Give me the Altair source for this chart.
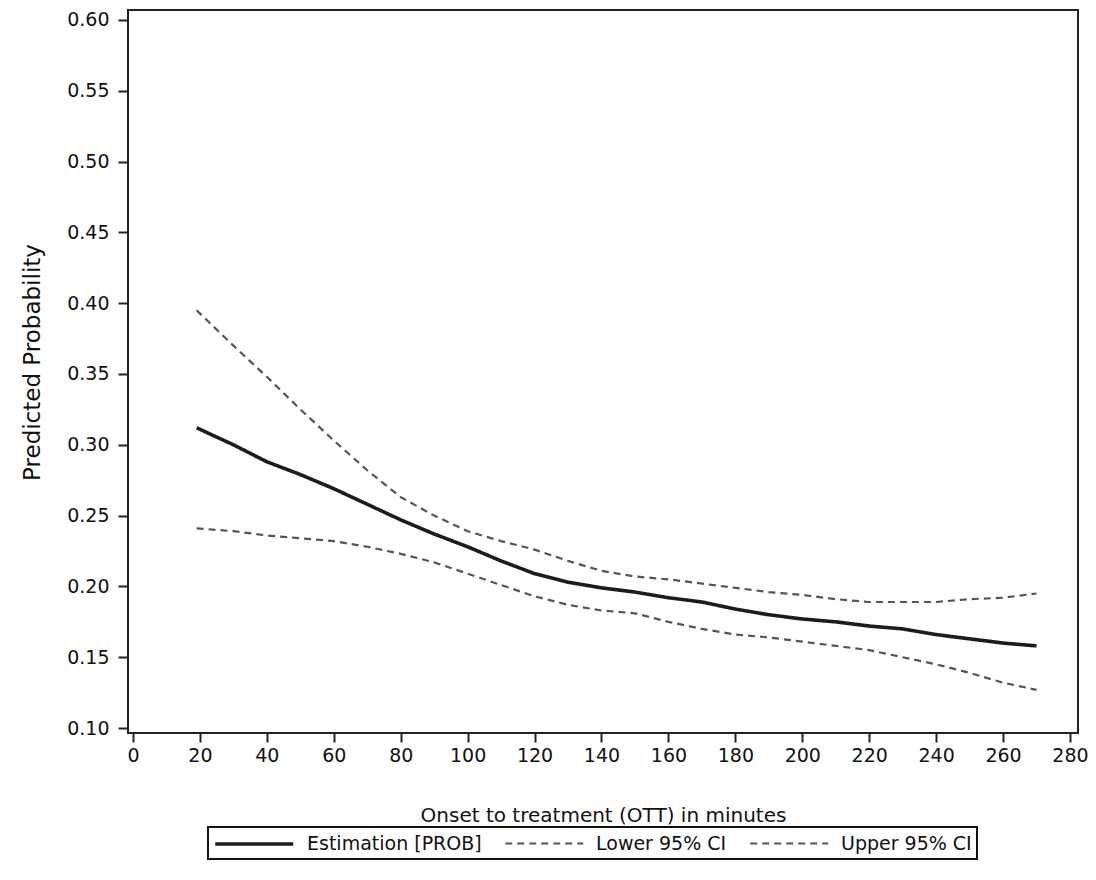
import altair as alt
import pandas as pd

# Onset-to-treatment minutes (x positions shared by all three series)
ott = [19, 30, 40, 50, 60, 70, 80, 90, 100, 110, 120, 130, 140, 150, 160,
       170, 180, 190, 200, 210, 220, 230, 240, 250, 260, 270]

estimate = [0.312, 0.300, 0.288, 0.279, 0.269, 0.258, 0.247, 0.237, 0.228, 0.218,
            0.209, 0.203, 0.199, 0.196, 0.192, 0.189, 0.184, 0.180, 0.177, 0.175,
            0.172, 0.170, 0.166, 0.163, 0.160, 0.158]

upper_ci = [0.395, 0.370, 0.348, 0.325, 0.303, 0.282, 0.263, 0.250, 0.239, 0.232,
            0.226, 0.218, 0.211, 0.207, 0.205, 0.202, 0.199, 0.196, 0.194, 0.191,
            0.189, 0.189, 0.189, 0.191, 0.192, 0.195]

lower_ci = [0.241, 0.239, 0.236, 0.234, 0.232, 0.228, 0.223, 0.217, 0.209, 0.201,
            0.193, 0.187, 0.183, 0.181, 0.175, 0.170, 0.166, 0.164, 0.161, 0.158,
            0.155, 0.150, 0.145, 0.139, 0.132, 0.127]

series_names = ["Estimation [PROB]", "Lower 95% CI", "Upper 95% CI"]
x_ticks = list(range(0, 281, 20))
y_ticks = [0.10, 0.15, 0.20, 0.25, 0.30, 0.35, 0.40, 0.45, 0.50, 0.55, 0.60]

rows = []
for name, vals in zip(series_names, [estimate, lower_ci, upper_ci]):
    for x, v in zip(ott, vals):
        rows.append({"ott": x, "prob": v, "series": name})
df = pd.DataFrame(rows)

FONT = "DejaVu Sans"


def make_legend():
    return alt.Legend(title=None, orient="none", legendX=80, legendY=817,
                      direction="horizontal", symbolType="M-1,0H7",
                      symbolSize=380, labelFont=FONT, labelFontSize=19,
                      labelColor="#111", labelOffset=70, labelLimit=400,
                      columnPadding=18, padding=5, strokeColor="#111")


chart = alt.Chart(df).mark_line().encode(
    x=alt.X("ott:Q",
            scale=alt.Scale(domain=[-1.5, 282.4], nice=False, zero=False),
            axis=alt.Axis(values=x_ticks, title="Onset to treatment (OTT) in minutes",
                          grid=False, domain=False, tickSize=9, tickWidth=2,
                          tickColor="#222", labelPadding=4, labelFontSize=19,
                          labelFont=FONT, labelColor="#111",
                          titleFont=FONT, titleFontSize=20, titleFontWeight="normal",
                          titleColor="#111", titleX=475, titleY=72,
                          titleBaseline="top", titleAlign="center")),
    y=alt.Y("prob:Q",
            scale=alt.Scale(domain=[0.0965, 0.607], nice=False, zero=False),
            axis=alt.Axis(values=y_ticks, format=".2f", title="Predicted Probability",
                          grid=False, domain=False, tickSize=10, tickWidth=2,
                          tickColor="#222", labelPadding=9, labelFontSize=19,
                          labelFont=FONT, labelColor="#111",
                          titleFont=FONT, titleFontSize=23, titleFontWeight="normal",
                          titleColor="#111", titleX=-84, titleY=352,
                          titleAngle=270, titleBaseline="bottom", titleAlign="center")),
    color=alt.Color("series:N",
                    scale=alt.Scale(domain=series_names, range=["#1c1c1c", "#555555", "#555555"]),
                    legend=make_legend()),
    strokeDash=alt.StrokeDash("series:N",
                              scale=alt.Scale(domain=series_names,
                                              range=[[1, 0], [7, 5], [7, 5]]),
                              legend=make_legend()),
    strokeWidth=alt.StrokeWidth("series:N",
                                scale=alt.Scale(type="ordinal", domain=series_names,
                                                range=[3.6, 2.2, 2.2]),
                                legend=make_legend()),
).properties(
    width=950,
    height=723,
    autosize=alt.AutoSizeParams(type="none"),
    padding={"left": 120, "top": 2, "right": 10, "bottom": 131},
).configure_view(
    stroke="#222", strokeWidth=2
).configure_legend(
    strokeWidth=2
)

chart.save("out.html", embed_options={"renderer": "svg", "actions": False})
